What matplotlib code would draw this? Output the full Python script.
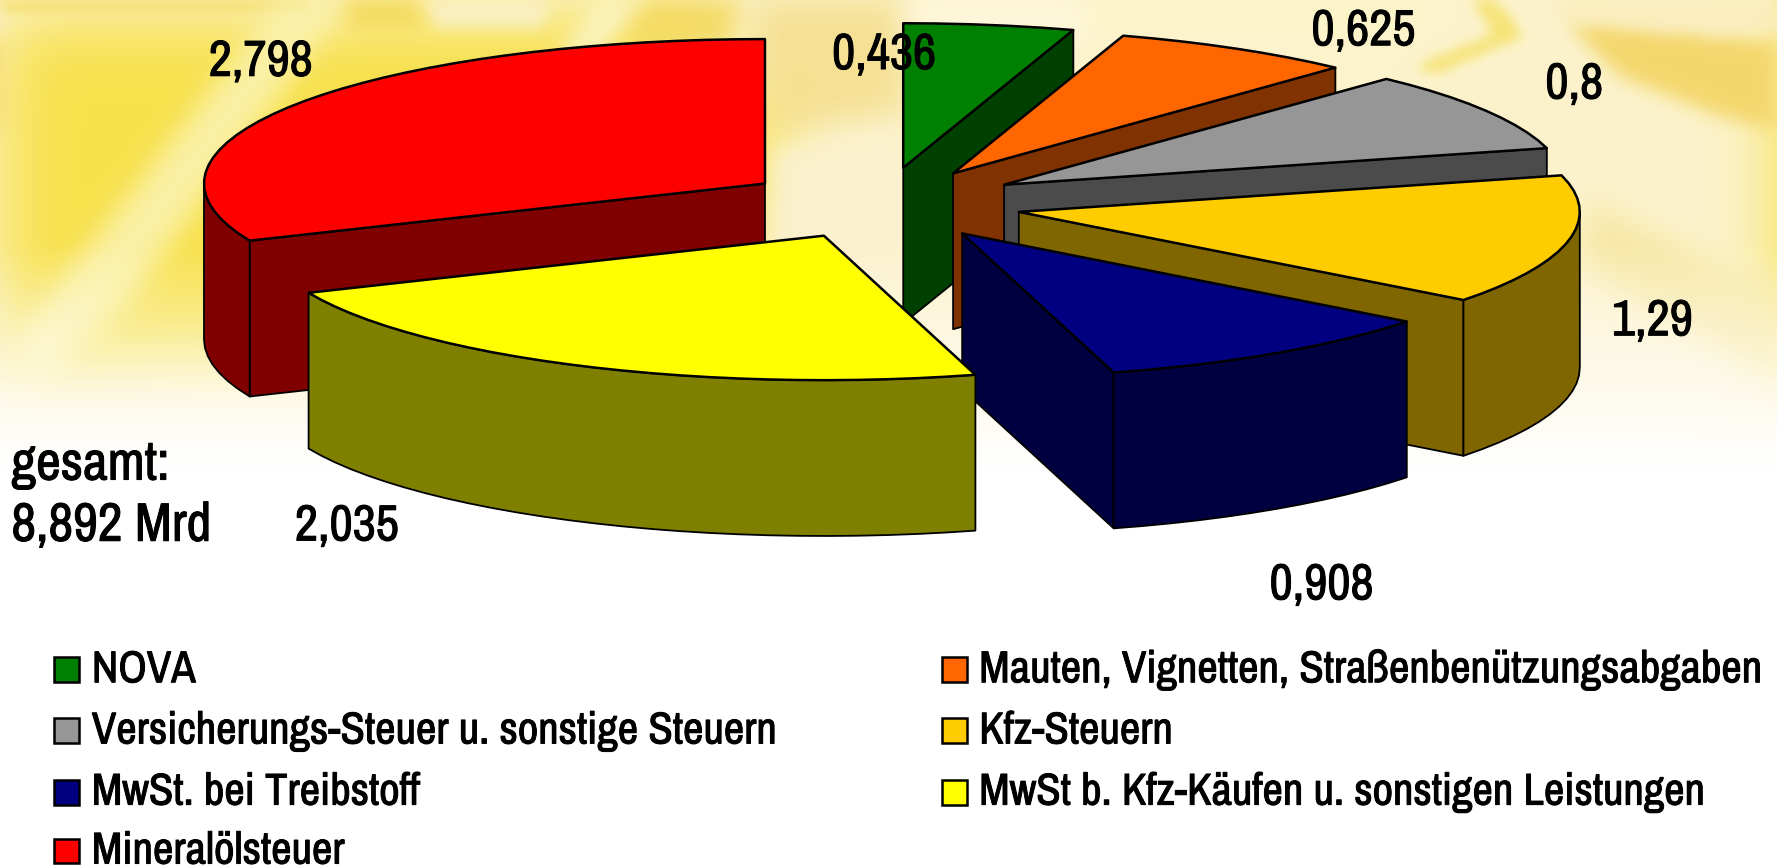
import numpy as np
import matplotlib
matplotlib.use("Agg")
import matplotlib.pyplot as plt
import matplotlib.patheffects as pe
from matplotlib.patches import Polygon, Rectangle
from matplotlib.path import Path
from matplotlib import font_manager as fm

# ---------- data ----------
categories = ["NOVA", "Mauten, Vignetten, Straßenbenützungsabgaben",
              "Versicherungs-Steuer u. sonstige Steuern", "Kfz-Steuern",
              "MwSt. bei Treibstoff", "MwSt b. Kfz-Käufen u. sonstigen Leistungen",
              "Mineralölsteuer"]
values = [0.436, 0.625, 0.8, 1.29, 0.908, 2.035, 2.798]
total_label = ["gesamt:", "8,892 Mrd"]

# ---------- style ----------
top_colors = ["#008000", "#FF6600", "#969696", "#FFCC00", "#000080", "#FFFF00", "#FF0000"]
wall_colors = ["#004000", "#803300", "#4B4B4B", "#806600", "#000040", "#808000", "#800000"]
apex = [(797, 148), (841, 153), (886, 163), (899, 187), (849, 206), (727, 208), (675, 162)]
label_pos = [(780, 49), (1203, 28), (1389, 75), (1458, 284), (1166, 517), (306, 465), (230, 55)]
draw_order = [0, 1, 2, 3, 6, 4, 5]
RX, RY, DEPTH = 495, 127.5, 137.5
legend_xy = [(48, 591), (831, 591), (48, 645), (831, 645), (48, 699), (831, 699), (48, 751)]

names = {f.name for f in fm.fontManager.ttflist}
FONT = next((n for n in ["Archivo Narrow", "Pragati Narrow", "PT Sans Narrow", "Liberation Sans"] if n in names))

W, H = 1568, 766
fig = plt.figure(figsize=(17.77, 8.68), dpi=100)
ax = fig.add_axes([0, 0, 1, 1])
ax.axis("off")

# ---------- blurred background picture ----------
bw, bh = 392, 192
xx, yy = np.meshgrid((np.arange(bw) + .5) * W / bw, (np.arange(bh) + .5) * H / bh)
pts = np.c_[xx.ravel(), yy.ravel()]
fx = np.fft.fftfreq(bw)[None, :]
fy = np.fft.fftfreq(bh)[:, None]


def blur(a, s):
    s = s * bw / W
    return np.real(np.fft.ifft2(np.fft.fft2(a) * np.exp(-2 * (np.pi * s) ** 2 * (fx ** 2 + fy ** 2))))


def blob(poly, s):
    m = Path(poly).contains_points(pts).reshape(bh, bw).astype(float)
    return np.clip(blur(m, s), 0, 1)


img = np.ones((bh, bw, 3))
img[:] = np.array([252, 243, 205]) / 255


def paint(mask, color, alpha=1.0):
    c = np.array(matplotlib.colors.to_rgb(color))
    img[:] = img * (1 - mask[..., None] * alpha) + c * mask[..., None] * alpha


# strong yellow on the left, paler strip on top
paint(blob([(-80, 15), (370, 15), (600, 15), (700, 120), (640, 300), (200, 330), (-80, 340)], 30), "#F7E14B")
paint(blob([(-80, -60), (270, -60), (270, 13), (-80, 13)], 3), "#F6E27C", .9)
# pale diagonal streaks
paint(blob([(255, -10), (315, -10), (220, 120), (110, 270), (30, 340), (10, 300), (100, 190)], 12), "#FBF2B0", .9)
paint(blob([(535, -10), (575, -10), (530, 50), (490, 50)], 8), "#FBF3C0", .9)
paint(blob([(300, -10), (370, -10), (370, 25), (310, 25)], 8), "#F2D750", .8)
paint(blob([(370, -20), (490, -20), (480, 22), (385, 22)], 6), "#FAEFC2", 1)
paint(blob([(575, -10), (660, -10), (640, 40), (550, 40)], 10), "#F3D95E", .9)
# gold area between red and green, then cream with faint vertical streaks
paint(blob([(660, -10), (800, -10), (800, 100), (680, 115)], 14), "#F4DC86", .8)
paint(blob([(680, 130), (795, 120), (795, 250), (680, 250)], 10), "#FBF1CF", .95)
# top centre and right
paint(blob([(800, -20), (960, -20), (960, 35), (800, 35)], 12), "#FEF8DE", .9)
paint(blob([(960, -20), (1280, -20), (1240, 25), (960, 25)], 10), "#FDF6C8", .9)
paint(blob([(1285, -20), (1305, -20), (1345, 32), (1265, 66), (1250, 58), (1318, 30)], 5), "#F5E26C", .9)
# gold wedge at right
paint(blob([(1380, 18), (1600, 40), (1600, 122), (1510, 100), (1430, 68)], 8), "#F4D76C")
paint(blob([(1350, -30), (1600, -30), (1600, 32), (1380, 18)], 6), "#FBEDBC", .95)
# lower right band
paint(blob([(1400, 175), (1600, 270), (1600, 360), (1395, 235)], 12), "#F7E6A0", .8)
# fade to white below
paint(np.clip((yy - 215) / 200, 0, 1) ** 1.0, "#FFFFFF")
ax.imshow(img, extent=(0, W, H, 0), interpolation="bilinear", aspect="auto", zorder=0)
ax.set_xlim(0, W)
ax.set_ylim(H, 0)

# ---------- exploded 3D pie, projected from the values ----------
edges = np.cumsum([0.0] + values) / sum(values) * 360.0


def rim(cx, cy, a0, a1, dy=0.0):
    n = max(int(abs(a1 - a0) / 3.0), 1) + 1
    t = np.radians(np.linspace(a0, a1, n))
    return np.c_[cx + RX * np.sin(t), cy - RY * np.cos(t) + dy]


z = 1
for i in draw_order:
    a0, a1 = edges[i], edges[i + 1]
    cx, cy = apex[i]
    kw = dict(edgecolor="black", joinstyle="round")
    faces = []
    if np.sin(np.radians(a0)) < -1e-6:
        e = rim(cx, cy, a0, a0)[0]
        faces.append([(cx, cy), tuple(e), (e[0], e[1] + DEPTH), (cx, cy + DEPTH)])
    if np.sin(np.radians(a1)) > 1e-6:
        e = rim(cx, cy, a1, a1)[0]
        faces.append([(cx, cy), tuple(e), (e[0], e[1] + DEPTH), (cx, cy + DEPTH)])
    lo, hi = max(a0, 90), min(a1, 270)
    if hi > lo:
        up = rim(cx, cy, lo, hi)
        faces.append(np.vstack([up, rim(cx, cy, lo, hi, DEPTH)[::-1]]))
    for f in faces:
        ax.add_patch(Polygon(f, closed=True, facecolor=wall_colors[i], linewidth=1.3, zorder=z, **kw))
    top = np.vstack([[(cx, cy)], rim(cx, cy, a0, a1)])
    ax.add_patch(Polygon(top, closed=True, facecolor=top_colors[i], linewidth=1.8, zorder=z + 0.5, **kw))
    z += 1

# ---------- text ----------
FS = 36.5
TFS = 39
LFS = 32.2
heavy = [pe.withStroke(linewidth=0.7, foreground="black")]
for v, (x, y) in zip(values, label_pos):
    ax.text(x, y, f"{v:g}".replace(".", ","), ha="center", va="center", fontsize=FS,
            family=FONT, color="black", zorder=20, path_effects=heavy)
ax.text(10, 410, total_label[0], ha="left", va="center", fontsize=TFS, family=FONT, zorder=20, path_effects=heavy)
ax.text(10, 464, total_label[1], ha="left", va="center", fontsize=TFS, family=FONT, zorder=20, path_effects=heavy)

for name, c, (x, y) in zip(categories, top_colors, legend_xy):
    ax.add_patch(Rectangle((x, y - 11), 22, 22, facecolor=c, edgecolor="black", linewidth=1.8, zorder=20))
    ax.text(x + 33, y + 0.5, name, ha="left", va="center", fontsize=LFS, family=FONT, zorder=20, path_effects=heavy)

fig.savefig("out.png", dpi=100)
